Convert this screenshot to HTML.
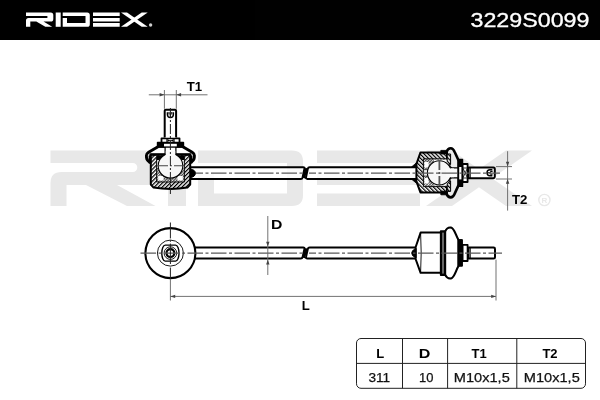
<!DOCTYPE html>
<html><head><meta charset="utf-8"><title>3229S0099</title>
<style>
html,body{margin:0;padding:0;background:#fff;}
body{width:600px;height:400px;overflow:hidden;font-family:"Liberation Sans",sans-serif;}
svg{display:block;opacity:0.999;will-change:transform}
text{font-family:"Liberation Sans",sans-serif;}
</style></head><body>
<svg width="600" height="400" viewBox="0 0 600 400">
<defs>
<pattern id="h1" width="2.8" height="2.8" patternUnits="userSpaceOnUse" patternTransform="rotate(-45)">
<rect width="2.8" height="2.8" fill="#fff"/><rect width="1.25" height="2.8" fill="#000"/></pattern>
<pattern id="h2" width="2.8" height="2.8" patternUnits="userSpaceOnUse" patternTransform="rotate(45)">
<rect width="2.8" height="2.8" fill="#fff"/><rect width="1.25" height="2.8" fill="#000"/></pattern>
<pattern id="h3" width="2" height="2" patternUnits="userSpaceOnUse" patternTransform="rotate(45)">
<rect width="2" height="2" fill="#fff"/><rect width="0.8" height="2" fill="#222"/><rect width="2" height="0.5" fill="#444"/></pattern>
</defs>
<rect width="600" height="400" fill="#fff"/>

<!-- watermark -->
<g fill="#e8e8e8"><path d="M50.5,150.5 H147 Q158,150.5 158,161.5 V174 Q158,185 147,185 H117 L155.5,206 H127 L86,185 H66.5 V206 H50.5 V183 Q50.5,172 61.5,172 H132.79999999999998 a4.5,4.5 0 0 0 0,-9 H50.5 Z"/><path d="M168,150.5 H186 V206 H168 Z"/><path d="M198,150.5 H292 Q303,150.5 303,161.5 V195 Q303,206 292,206 H198 V172 H214 V193.5 H287 V163 H198 Z"/><path d="M317,150.5 H420 V163 H317 Z M317,172 H420 V185 H317 Z M317,193.5 H420 V206 H317 Z"/><path d="M426,150.5 H452 L532,206 H506 Z"/><path d="M532,150.5 H506 L426,206 H452 Z"/></g>
<circle cx="544.4" cy="200" r="5.6" fill="none" stroke="#e8e8e8" stroke-width="1.4"/>
<text x="544.4" y="203" font-size="8" font-weight="bold" fill="#e8e8e8" text-anchor="middle">R</text>
<!-- header -->
<rect x="0" y="0" width="600" height="40" fill="#000"/>
<g fill="#fff"><path d="M26,12.5 H50.699999999999996 Q53.3,12.5 53.3,15.1 V18.9 Q53.3,21.5 50.699999999999996,21.5 H43.5 L52.2,26.8 H45.3 L36.3,21.5 H30.3 V26.8 H26 V20.5 Q26,17.9 28.6,17.9 H46.669999999999995 a0.9499999999999993,0.9499999999999993 0 0 0 0,-1.8999999999999986 H26 Z"/><path d="M55.7,12.5 H60.7 V26.8 H55.7 Z"/><path d="M62.7,12.5 H87.2 Q89.8,12.5 89.8,15.1 V24.2 Q89.8,26.8 87.2,26.8 H62.7 V17.9 H67.0 V23.1 H85.5 V16 H62.7 Z"/><path d="M93,12.5 H119.7 V16 H93 Z M93,17.9 H119.7 V21.5 H93 Z M93,23.1 H119.7 V26.8 H93 Z"/><path d="M121,12.5 H127 L147.7,26.8 H141.7 Z"/><path d="M147.7,12.5 H141.7 L121,26.8 H127 Z"/></g>
<circle cx="150.6" cy="25" r="1.7" fill="#cfcfcf"/>
<text x="470.5" y="26.7" font-size="19.5" fill="#fff" stroke="#fff" stroke-width="0.3" textLength="119" lengthAdjust="spacingAndGlyphs">3229S0099</text><!-- ================= TOP VIEW (section) ================= -->
<g fill="none" stroke="#000" stroke-linecap="butt" stroke-linejoin="round">

<!-- rod (top view) -->
<rect x="190" y="167.2" width="226" height="11.7" fill="#fff" fill-opacity="0.8" stroke="none"/>
<path d="M190,167.2 H303.2 Q304.8,167.2 304.4,169 L302.6,177.4 Q302.2,178.9 300.8,178.9 H190" stroke-width="2"/>
<path d="M416,167.2 H309.6 Q308.2,167.2 307.8,168.8 L306,177.2 Q305.6,178.9 307.4,178.9 H416" stroke-width="2"/>
<path d="M306.6,168.2 L303.6,178" stroke-width="2.6"/>
<!-- rod centre line -->
<path d="M196,173.1 H303" stroke="#5a5a5a" stroke-width="1.05" stroke-dasharray="15.5 2.5 3 2.5" stroke-dashoffset="8.5"/><path d="M309,173.1 H413" stroke="#5a5a5a" stroke-width="1.05" stroke-dasharray="15.5 2.5 3 2.5" stroke-dashoffset="8.5"/>

<!-- ===== left ball joint ===== -->
<!-- boot -->
<path d="M158.4,146.4 L148.6,152.2 Q146.4,153.6 146.4,155.6 L146.5,157.6 Q146.8,160.8 150.8,162.8 L150.8,154.8 H190 L190,162.8 Q194,160.8 194.3,157.6 L194.4,155.6 Q194.4,153.6 192.2,152.2 L182.4,146.4 Z" fill="#fff" stroke-width="2.9"/>
<!-- housing -->
<path d="M150.8,154.8 H190.2 V184.6 L187.4,187.6 Q170.5,190.4 153.6,187.6 L150.8,184.6 Z" fill="url(#h2)" stroke-width="2"/>
<path d="M149.9,155.4 V163.4 M191.1,155.4 V163.4" stroke-width="2.6"/>
<!-- cavity -->
<path d="M156.6,156.4 H184.4 V182 H156.6 Z" fill="url(#h3)" stroke-width="0.9"/>
<path d="M157.4,158.6 H183.6 V168 H157.4 Z" fill="#fff" stroke="none"/>
<path d="M158.2,176 H163.6 V180.6 H158.2 Z M177.4,176 H182.8 V180.6 H177.4 Z" fill="#fff" stroke="none"/>
<!-- lip -->
<path d="M151.6,155 H164.4 M189.4,155 H176.6" stroke-width="1.2"/><path d="M156.8,156 H163.4 L159.6,160 H156.8 Z M184.2,156 H177.6 L181.4,160 H184.2 Z" fill="#000" stroke="none"/>
<!-- neck -->
<rect x="165.4" y="147" width="10.2" height="10" fill="#fff" stroke="none"/>
<path d="M165.1,147 V154.4 Q165.1,156 163.2,157.2 M175.9,147 V154.4 Q175.9,156 177.8,157.2" stroke-width="1.2"/>
<!-- ball -->
<circle cx="170.5" cy="165.8" r="12.3" fill="#f7f7f7" stroke-width="1.1"/>
<rect x="165.8" y="151" width="9.4" height="7" fill="#fafafa" stroke="none"/>
<path d="M157.5,165.8 H184" stroke="#444" stroke-width="1.1" stroke-dasharray="10.5 2 2 2"/>
<!-- collars / nut -->
<rect x="157.6" y="142.6" width="25.8" height="4.4" fill="#000" stroke-width="1.6"/>
<rect x="164" y="143.6" width="12.8" height="2.8" fill="#fff" stroke="none"/>
<rect x="161.4" y="138.2" width="18.2" height="4.4" fill="#000" stroke-width="1.6"/>
<path d="M162.4,139.2 H166.4 V141.8 H162.4 Z M174.6,139.2 H178.6 V141.8 H174.6 Z M167.6,139.2 H173.4 V141.8 H167.6 Z" fill="#fff" stroke="none"/>
<path d="M167.6,139.2 L170.5,140.5 L167.6,141.8 Z M173.4,139.2 L170.5,140.5 L173.4,141.8 Z" fill="#000" stroke="none"/>
<!-- stud -->
<path d="M164.7,137.6 V110.8 Q164.7,109.7 165.8,109.7 H175 Q176.1,109.7 176.1,110.8 V137.6" fill="#fff" stroke-width="2"/>
<path d="M167.4,112.2 V114.6 A3,3 0 0 0 173.4,114.6 V112.2" stroke-width="1.4"/>
<path d="M169,112 V114.4 M171.8,112 V114.4 M170.4,113.6 V117.4" stroke-width="1.1"/>
<!-- vertical centre line -->
<path d="M170.4,107 V194" stroke="#222" stroke-width="1" stroke-dasharray="10 2 2 2" stroke-dashoffset="-1"/>
<!-- weld -->
<path d="M190.6,169 Q195.4,170 195.4,173.2 Q195.4,176.6 190.6,177.6 Z" fill="#000" stroke-width="1"/>

<!-- ===== right ball joint ===== -->
<!-- boot -->
<path d="M446.6,152 C447.2,149.6 448.8,148.2 450.8,148.2 C452.8,148.2 453.8,149.8 454.8,152.2 L458.8,161 L458.8,184.6 L454.8,193.4 C453.8,195.8 452.8,197.4 450.8,197.4 C448.8,197.4 447.2,196 446.6,193.6 Z" fill="#ececec" stroke-width="2.6"/>
<!-- housing -->
<path d="M416.4,164 L420.4,152.6 H447 V192.4 H420.4 L416.4,181.4 Z" fill="url(#h1)" stroke-width="2"/>
<path d="M423.4,158.8 H450 V186.6 H423.4 Z" fill="url(#h3)" stroke-width="0.9"/>
<path d="M434,159.8 H448.4 V185.6 H434 Z" fill="#fff" stroke="none"/>
<path d="M424.4,162 H428.6 V167.4 H424.4 Z M424.4,178 H428.6 V183.4 H424.4 Z" fill="#fff" stroke="none"/>
<path d="M423.6,169.6 H427.6 V176 H423.6 Z" fill="#eee" stroke-width="0.6"/>
<rect x="440.8" y="150.4" width="6.2" height="3.6" fill="#000" stroke-width="0.8"/>
<rect x="440.8" y="191.2" width="6.2" height="3.6" fill="#000" stroke-width="0.8"/>
<!-- lip -->
<path d="M447.2,154 H450.6 V164.4 L447.2,161.6 Z M447.2,191.4 H450.6 V181 L447.2,183.8 Z" fill="url(#h1)" stroke-width="1"/>
<!-- neck -->
<path d="M447,167.6 H457.6 V178 H447 Z" fill="#fafafa" stroke="none"/>
<path d="M448.6,164.4 Q449.4,167.8 452,167.8 H458 M448.6,181 Q449.4,177.8 452,177.8 H458" stroke-width="1.2"/>
<!-- ball -->
<circle cx="439.4" cy="172.8" r="12" fill="#f7f7f7" stroke-width="1.1"/>
<rect x="446" y="168.4" width="8" height="8.8" fill="#fafafa" stroke="none"/>
<path d="M439.4,160 V186" stroke="#555" stroke-width="1.8" stroke-dasharray="10 2 2 2"/>
<!-- collar, nut -->
<rect x="458.2" y="159.6" width="4.2" height="26.6" fill="#000" stroke-width="1.7"/>
<rect x="459.2" y="167" width="2.4" height="12.4" fill="#fff" stroke="none"/>
<rect x="462.6" y="164" width="5" height="18" fill="#fff" stroke-width="1.8"/>
<path d="M462.8,168 H467.4 M462.8,178 H467.4 M463.2,168.6 L467.2,177.4 M467.2,168.6 L463.2,177.4" stroke-width="0.8"/>
<!-- stud -->
<path d="M468.6,167.4 H493.4 Q494.8,167.4 494.8,168.8 V176.8 Q494.8,178.2 493.4,178.2 H468.6 Z" fill="#fff" stroke-width="2"/>
<path d="M470.4,167.6 V178" stroke-width="0.8"/>
<path d="M492.4,169.8 H490 A3,3 0 0 0 490,175.8 H492.4" stroke-width="1.4"/>
<path d="M492.6,171.4 H490.2 M492.6,174.2 H490.2 M491,172.8 H487.4" stroke-width="1.1"/>
<!-- weld / taper -->
<path d="M411.6,166.9 L416.4,162.8 V166.9 Z M411.6,179.2 L416.4,183.2 V179.2 Z" fill="#000" stroke-width="0.8"/>
<!-- centre line over joints -->
<path d="M413,173.1 H500" stroke="#5a5a5a" stroke-width="1.05" stroke-dasharray="15.5 2.5 3 2.5" stroke-dashoffset="18.5"/>
</g>

<!-- ================= BOTTOM VIEW ================= -->
<g fill="none" stroke="#000" stroke-linejoin="round">
<!-- rod -->
<rect x="190" y="247.5" width="226" height="11.1" fill="#fff" stroke="none"/>
<path d="M194.6,247.5 H303.2 Q304.8,247.5 304.4,249.2 L302.6,257 Q302.2,258.6 300.8,258.6 H194.6" stroke-width="2"/>
<path d="M416,247.5 H309.6 Q308.2,247.5 307.8,249 L306,257 Q305.6,258.6 307.4,258.6 H416" stroke-width="2"/>
<path d="M306.6,248.4 L303.6,257.8" stroke-width="2.6"/>
<!-- eye -->
<circle cx="170.4" cy="253.1" r="25" fill="#fff" stroke-width="2.1"/>
<circle cx="170.4" cy="253.1" r="13" stroke-width="0.9"/>
<path d="M165.2,245.1 H175.6 A3.4,8 0 0 1 175.6,261.1 H165.2 A3.4,8 0 0 1 165.2,245.1 Z" stroke-width="1.4"/>
<circle cx="170.4" cy="253.1" r="6.3" stroke-width="0.9"/>
<circle cx="170.4" cy="253.1" r="3.9" stroke-width="2.2"/>

<!-- centre lines -->
<path d="M140.5,253.1 H303" stroke="#5a5a5a" stroke-width="1.05" stroke-dasharray="15.5 2.5 3 2.5"/><path d="M309,253.1 H413" stroke="#5a5a5a" stroke-width="1.05" stroke-dasharray="15.5 2.5 3 2.5" stroke-dashoffset="8.5"/>
<path d="M170.4,222.5 V238.4 M170.4,240.2 V241.8 M170.4,243.6 V264 M170.4,267.6 V279" stroke="#222" stroke-width="1"/>
<!-- right joint side view -->
<path d="M445,231.6 C446.4,228.6 448.6,227.2 451,227.6 C454.4,228.4 455.4,234.6 458.6,240.2 L458.6,265.8 C455.4,271.4 454.4,277.6 451,278.4 C448.6,278.8 446.4,277.4 445,274.6 Z" fill="#fff" stroke-width="2.1"/>
<path d="M415.6,247.2 L420.6,232.6 H441 V272.8 H420.6 L415.6,259 Z" fill="#fff" stroke-width="2"/>
<path d="M420.6,233 Q421.8,253 420.6,272.4" stroke-width="0.9"/>
<rect x="440.8" y="231.2" width="4.4" height="43.8" fill="#000" stroke-width="1.9"/><path d="M443,232.6 V273.6" stroke="#fff" stroke-width="0.8"/>
<rect x="458" y="239.6" width="4.4" height="26.6" fill="#000" stroke-width="1"/>
<rect x="462.6" y="244.8" width="5" height="16.2" fill="#fff" stroke-width="1.8"/>
<path d="M468.6,247.6 H493.6 Q495,247.6 495,249 V257.2 Q495,258.6 493.6,258.6 H468.6 Z" fill="#fff" stroke-width="2"/>
<path d="M470.4,247.8 V258.4" stroke-width="0.8"/>
<path d="M416.2,248.4 Q411.6,250 411.6,253.1 Q411.6,256.2 416.2,257.8 Z" fill="#000" stroke-width="0.8"/>
<path d="M413,253.1 H502" stroke="#5a5a5a" stroke-width="1.05" stroke-dasharray="15.5 2.5 3 2.5" stroke-dashoffset="18.5"/>
</g>

<!-- ================= DIMENSIONS ================= -->
<g fill="none" stroke="#6a6a6a" stroke-width="0.95">
<!-- T1 -->
<path d="M148.8,94.8 H207.5 M164.4,90 V108.8 M176.3,90 V108.8"/>
<!-- T2 -->
<path d="M507.6,151.2 V210.6 M496,166.6 H512 M496,179 H512"/>
<!-- D -->
<path d="M267.8,216 V275"/>
<!-- L -->
<path d="M170.4,279 V300.5 M496,259.6 V300.5 M170.4,296.4 H496"/>
</g>
<g fill="#444" stroke="none">
<path d="M164.4,94.8 L159.6,93.1 V96.5 Z M176.3,94.8 L181.1,93.1 V96.5 Z"/>
<path d="M507.6,166.6 L505.9,161.8 H509.3 Z M507.6,179 L505.9,183.8 H509.3 Z"/>
<path d="M267.8,246.5 L266.1,241.7 H269.5 Z M267.8,259.8 L266.1,264.6 H269.5 Z"/>
<path d="M170.4,296.4 L175.2,294.7 V298.1 Z M496,296.4 L491.2,294.7 V298.1 Z"/>
</g>
<g font-weight="bold" font-size="13.2" fill="#000">
<text x="186.7" y="90.7">T1</text>
<text x="512" y="203.9">T2</text>
<text x="270.9" y="229" textLength="11.4" lengthAdjust="spacingAndGlyphs">D</text>
<text x="301.8" y="310">L</text>
</g>

<!-- ================= TABLE ================= -->
<rect x="356.5" y="338.5" width="229" height="49.8" rx="4.5" ry="4.5" fill="#fff" stroke="#222" stroke-width="1"/>
<path d="M356.5,363.4 H585.5 M402.5,338.5 V388.3 M447.6,338.5 V388.3 M516.8,338.5 V388.3" stroke="#222" stroke-width="1" fill="none"/>
<g font-weight="bold" font-size="13" fill="#000" text-anchor="middle">
<text x="380.2" y="357.6">L</text>
<text x="424.6" y="357.6" textLength="11.6" lengthAdjust="spacingAndGlyphs">D</text>
<text x="479.2" y="357.6">T1</text>
<text x="550" y="357.6">T2</text>
</g>
<g font-size="13.2" fill="#111" stroke="#111" stroke-width="0.25">
<text x="368.4" y="382" textLength="21.8" lengthAdjust="spacingAndGlyphs">311</text>
<text x="419" y="382" textLength="14.4" lengthAdjust="spacingAndGlyphs">10</text>
<text x="453.8" y="382" textLength="56" lengthAdjust="spacingAndGlyphs">M10x1,5</text>
<text x="523.8" y="382" textLength="56" lengthAdjust="spacingAndGlyphs">M10x1,5</text>
</g>
</svg>
</body></html>
